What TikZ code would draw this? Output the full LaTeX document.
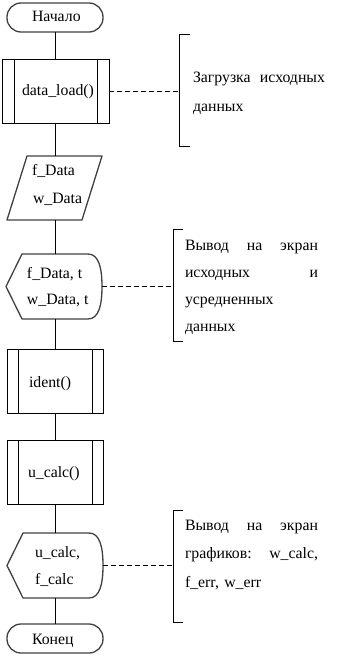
\documentclass[tikz,border=0pt]{standalone}
\usepackage{fontspec}
\setmainfont{Liberation Serif}
\usetikzlibrary{calc}
\begin{document}
\begin{tikzpicture}[x=1pt,y=-1pt,
  every node/.style={font=\fontsize{15.8}{19}\selectfont, inner sep=0pt, outer sep=0pt},
  blk/.style={minimum width=#1, minimum height=64pt},
  proc/.style={draw, line width=0.9pt},
  outl/.style={draw=black!75, line width=1.3pt, line join=round},
  term/.style={outl, rounded corners=14pt, minimum width=96pt, minimum height=29pt},
  conn/.style={line width=0.9pt},
  dsh/.style={line width=0.9pt, dash pattern=on 5pt off 3pt},
  brk/.style={line width=0.9pt},
  txt/.style={anchor=base west},
  cmt/.style={anchor=base west, text width=#1}
]
\useasboundingbox (0,0) rectangle (337,659);

% start / end
\node[term] (st) at (55,17.5) {};
\node[txt] (tst) at (32,21) {Начало};
\node[term] (en) at (55,638.5) {};
\node[txt] (ten) at (32,644) {Конец};

% data_load
\node[blk=107pt, proc] (dl) at (55.5,91) {};
\draw[proc] ([xshift=12pt]dl.north west) -- ([xshift=12pt]dl.south west);
\draw[proc] ([xshift=-12pt]dl.north east) -- ([xshift=-12pt]dl.south east);
\node[txt] (tdl) at (22,95) {data\_load()};

% parallelogram
\node[blk=95pt] (par) at (54.5,188) {};
\draw[outl] ([xshift=20pt]par.north west) -- (par.north east) -- ([xshift=-20pt]par.south east) -- (par.south west) -- cycle;
\node[txt] (tp1) at (32,175) {f\_Data};
\node[txt] (tp2) at (33,203) {w\_Data};

% display 1
\node[blk=96pt, minimum height=65pt] (d1) at (54,286.5) {};
\draw[outl] (d1.west) -- ([xshift=16pt]d1.north west) -- ([xshift=-14pt]d1.north east)
  .. controls ([xshift=-3pt]d1.north east) and ([yshift=18pt]d1.east) .. (d1.east)
  .. controls ([yshift=-18pt]d1.east) and ([xshift=-3pt]d1.south east) .. ([xshift=-14pt]d1.south east)
  -- ([xshift=16pt]d1.south west) -- cycle;
\node[txt] (td11) at (27,278) {f\_Data, t};
\node[txt] (td12) at (27,304) {w\_Data, t};

% ident
\node[blk=96pt, proc] (id) at (55,381) {};
\draw[proc] ([xshift=11pt]id.north west) -- ([xshift=11pt]id.south west);
\draw[proc] ([xshift=-11pt]id.north east) -- ([xshift=-11pt]id.south east);
\node[txt] (tid) at (29,387) {ident()};

% u_calc
\node[blk=96pt, proc] (uc) at (55,472) {};
\draw[proc] ([xshift=11pt]uc.north west) -- ([xshift=11pt]uc.south west);
\draw[proc] ([xshift=-11pt]uc.north east) -- ([xshift=-11pt]uc.south east);
\node[txt] (tuc) at (28,477) {u\_calc()};

% display 2
\node[blk=96pt, minimum height=65pt] (d2) at (55,565.5) {};
\draw[outl] (d2.west) -- ([xshift=16pt]d2.north west) -- ([xshift=-14pt]d2.north east)
  .. controls ([xshift=-3pt]d2.north east) and ([yshift=18pt]d2.east) .. (d2.east)
  .. controls ([yshift=-18pt]d2.east) and ([xshift=-3pt]d2.south east) .. ([xshift=-14pt]d2.south east)
  -- ([xshift=16pt]d2.south west) -- cycle;
\node[txt] (td21) at (35,557) {u\_calc,};
\node[txt] (td22) at (35,584) {f\_calc};

% trunk connectors
\draw[conn] (st.south) -- (st.south |- dl.north);
\draw[conn] (st.south |- dl.south) -- (st.south |- par.north);
\draw[conn] (st.south |- par.south) -- (st.south |- d1.north);
\draw[conn] (st.south |- d1.south) -- (st.south |- id.north);
\draw[conn] (id.south) -- (uc.north);
\draw[conn] (uc.south) -- (d2.north);
\draw[conn] (d2.south) -- (en.north);

% comments
\coordinate (b1t) at (179,34);  \coordinate (b1b) at (179,146);
\coordinate (b2t) at (173,229); \coordinate (b2b) at (173,341);
\coordinate (b3t) at (173,510); \coordinate (b3b) at (173,622);
\draw[brk] ([xshift=11pt]b1t) -- (b1t) -- (b1b) -- ([xshift=11pt]b1b);
\draw[brk] ([xshift=10pt]b2t) -- (b2t) -- (b2b) -- ([xshift=10pt]b2b);
\draw[brk] ([xshift=10pt]b3t) -- (b3t) -- (b3b) -- ([xshift=10pt]b3b);
\draw[dsh] (dl.east) -- (dl.east -| b1t);
\draw[dsh] (d1.east) -- (d1.east -| b2t);
\draw[dsh] (d2.east) -- (d2.east -| b3t);

\node[cmt=132pt, font=\fontsize{15.8}{29}\selectfont] (c1) at (193,82)
  {\makebox[\linewidth][s]{Загрузка\hfill исходных}\\данных};
\node[cmt=133pt, font=\fontsize{15.8}{27}\selectfont] (c2) at (185,250)
  {\makebox[\linewidth][s]{Вывод\hfill на\hfill экран}\\\makebox[\linewidth][s]{исходных\hfill и}\\усредненных\\данных};
\node[cmt=133pt, font=\fontsize{15.8}{28.5}\selectfont] (c3) at (185,530)
  {\makebox[\linewidth][s]{Вывод\hfill на\hfill экран}\\\makebox[\linewidth][s]{графиков:\hfill w\_calc,}\\f\_err, w\_err};
\end{tikzpicture}
\end{document}
